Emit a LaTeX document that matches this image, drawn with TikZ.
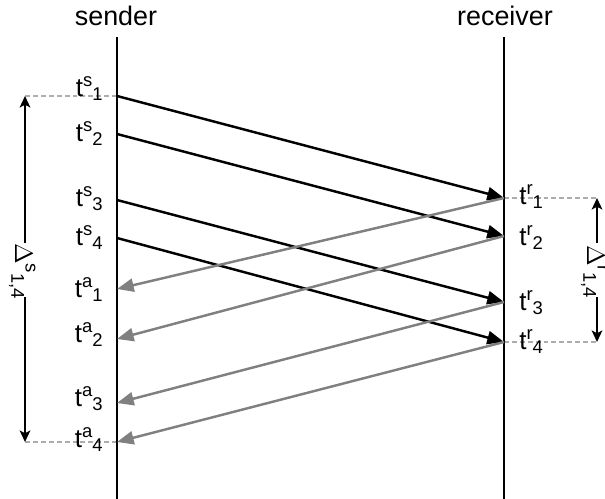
\documentclass[tikz,border=0pt]{standalone}
\usepackage{fontspec}
\setmainfont{Liberation Sans}
\usetikzlibrary{arrows.meta}

\newcommand{\smallsz}{\fontsize{10.5}{12}\selectfont}
\newcommand{\timelabel}[3]{#1\raisebox{6pt}{\smallsz #2}\raisebox{-2pt}{\smallsz #3}}

\begin{document}
\begin{tikzpicture}[x=0.02cm, y=-0.02cm,
    timeline/.style={line width=1.4pt},
    msg/.style={line width=1.4pt, -{Triangle[length=9.5pt, width=7.5pt]}},
    ack/.style={msg, gray},
    guide/.style={line width=1.3pt, gray!65, dash pattern=on 2.8pt off 1.7pt},
    span/.style={line width=1.4pt, -{Stealth[length=6.5pt, width=6pt, inset=1.5pt]}},
    lab/.style={inner sep=0pt, font=\fontsize{14.8}{16}\selectfont},
    head/.style={inner sep=0pt, anchor=base, font=\fontsize{15.3}{18}\selectfont}]
  \useasboundingbox (0,0) rectangle (605,499);
  % Headers
  \node[head] (sender) at (116,26) {sender};
  \node[head] (receiver) at (505,26) {receiver};
  % Points on the time lines
  \coordinate (stop) at (117,37);   \coordinate (sbot) at (117,499);
  \coordinate (rtop) at (504,37);   \coordinate (rbot) at (504,499);
  \coordinate (s1) at (117,96);  \coordinate (s2) at (117,134);
  \coordinate (s3) at (117,200); \coordinate (s4) at (117,238);
  \coordinate (a1) at (117,289); \coordinate (a2) at (117,339);
  \coordinate (a3) at (117,403); \coordinate (a4) at (117,442);
  \coordinate (r1) at (504,198); \coordinate (r2) at (504,236);
  \coordinate (r3) at (504,302); \coordinate (r4) at (504,342);
  % Guides
  \coordinate (gl1) at (25,96);  \coordinate (gl2) at (25,442);
  \coordinate (gr1) at (597,198); \coordinate (gr2) at (597,342);
  \draw[guide] (s1) -- (gl1);
  \draw[guide] (a4) -- (gl2);
  \draw[guide] (r1) -- (gr1);
  \draw[guide] (r4) -- (gr2);
  % Time lines
  \draw[timeline] (stop) -- (sbot);
  \draw[timeline] (rtop) -- (rbot);
  % Messages and acks
  \draw[msg] (s1) -- (r1);
  \draw[msg] (s2) -- (r2);
  \draw[msg] (s3) -- (r3);
  \draw[msg] (s4) -- (r4);
  \draw[ack] (r1) -- (a1);
  \draw[ack] (r2) -- (a2);
  \draw[ack] (r3) -- (a3);
  \draw[ack] (r4) -- (a4);
  % Labels
  \node[lab, anchor=base east] (ts1) at (103,97)  {\timelabel{t}{s}{1}};
  \node[lab, anchor=base east] (ts2) at (103,142) {\timelabel{t}{s}{2}};
  \node[lab, anchor=base east] (ts3) at (103,207) {\timelabel{t}{s}{3}};
  \node[lab, anchor=base east] (ts4) at (103,246) {\timelabel{t}{s}{4}};
  \node[lab, anchor=base east] (ta1) at (103,298) {\timelabel{t}{a}{1}};
  \node[lab, anchor=base east] (ta2) at (103,343) {\timelabel{t}{a}{2}};
  \node[lab, anchor=base east] (ta3) at (103,407) {\timelabel{t}{a}{3}};
  \node[lab, anchor=base east] (ta4) at (103,448) {\timelabel{t}{a}{4}};
  \node[lab, anchor=base west] (tr1) at (519,205) {\timelabel{t}{r}{1}};
  \node[lab, anchor=base west] (tr2) at (519,246) {\timelabel{t}{r}{2}};
  \node[lab, anchor=base west] (tr3) at (519,311) {\timelabel{t}{r}{3}};
  \node[lab, anchor=base west] (tr4) at (519,350) {\timelabel{t}{r}{4}};
  % Intervals
  \node[lab, rotate=-90, anchor=base west] (dsend) at (15,243) {\timelabel{$\Delta$}{s}{1,4}};
  \node[lab, rotate=-90, anchor=base west] (drecv) at (587,245) {\timelabel{$\Delta$}{r}{1,4}};
  \coordinate (ds1) at (25,243); \coordinate (ds2) at (25,297);
  \coordinate (dr1) at (597,243); \coordinate (dr2) at (597,297);
  \draw[span] (ds1) -- (gl1);
  \draw[span] (ds2) -- (gl2);
  \draw[span] (dr1) -- (gr1);
  \draw[span] (dr2) -- (gr2);
\end{tikzpicture}
\end{document}
